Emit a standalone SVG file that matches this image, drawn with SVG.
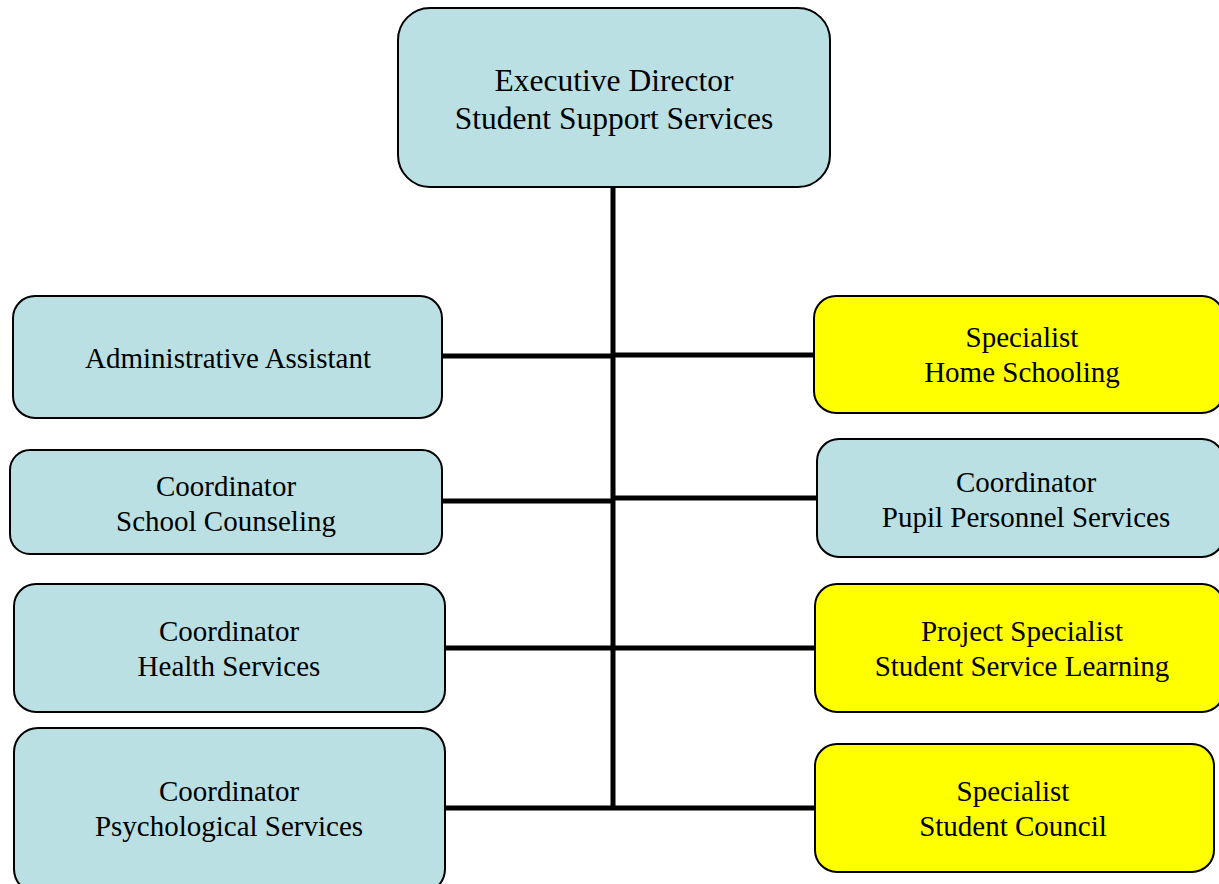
<svg xmlns="http://www.w3.org/2000/svg" width="1219" height="884" viewBox="0 0 1219 884">
<style>
.box{stroke:#000;stroke-width:2}
.blue{fill:#BAE0E4}
.yellow{fill:#FFFF00}
text{font-family:"Liberation Serif","Times New Roman",serif;font-size:29px;fill:#000;text-anchor:middle}
.big{font-size:31.5px}
.conn{stroke:#000;stroke-width:5;fill:none}
</style>
<rect width="1219" height="884" fill="#fff"/>
<g id="connectors">
<line class="conn" x1="613" y1="187" x2="613" y2="810"/>
<line class="conn" x1="442" y1="356" x2="613" y2="356"/>
<line class="conn" x1="613" y1="355" x2="815" y2="355"/>
<line class="conn" x1="442" y1="501" x2="613" y2="501"/>
<line class="conn" x1="613" y1="498" x2="818" y2="498"/>
<line class="conn" x1="445" y1="648" x2="815" y2="648"/>
<line class="conn" x1="445" y1="808" x2="815" y2="808"/>
</g>
<g id="executive-director">
<rect class="box blue" x="398" y="8" width="432" height="179" rx="32"/>
<text class="big" x="614" y="91">Executive Director</text>
<text class="big" x="614" y="129">Student Support Services</text>
</g>
<g id="administrative-assistant">
<rect class="box blue" x="13" y="296" width="429" height="122" rx="22"/>
<text x="228" y="368">Administrative Assistant</text>
</g>
<g id="school-counseling">
<rect class="box blue" x="10" y="450" width="432" height="104" rx="20"/>
<text x="226" y="496">Coordinator</text>
<text x="226" y="531">School Counseling</text>
</g>
<g id="health-services">
<rect class="box blue" x="14" y="584" width="431" height="128" rx="22"/>
<text x="229" y="641">Coordinator</text>
<text x="229" y="676">Health Services</text>
</g>
<g id="psychological-services">
<rect class="box blue" x="14" y="728" width="431" height="165" rx="24"/>
<text x="229" y="801">Coordinator</text>
<text x="229" y="836">Psychological Services</text>
</g>
<g id="home-schooling">
<rect class="box yellow" x="814" y="296" width="410" height="117" rx="22"/>
<text x="1022" y="347">Specialist</text>
<text x="1022" y="382">Home Schooling</text>
</g>
<g id="pupil-personnel-services">
<rect class="box blue" x="817" y="439" width="407" height="118" rx="22"/>
<text x="1026" y="492">Coordinator</text>
<text x="1026" y="527">Pupil Personnel Services</text>
</g>
<g id="student-service-learning">
<rect class="box yellow" x="815" y="584" width="409" height="128" rx="22"/>
<text x="1022" y="641">Project Specialist</text>
<text x="1022" y="676">Student Service Learning</text>
</g>
<g id="student-council">
<rect class="box yellow" x="815" y="744" width="399" height="128" rx="22"/>
<text x="1013" y="801">Specialist</text>
<text x="1013" y="836">Student Council</text>
</g>
</svg>
